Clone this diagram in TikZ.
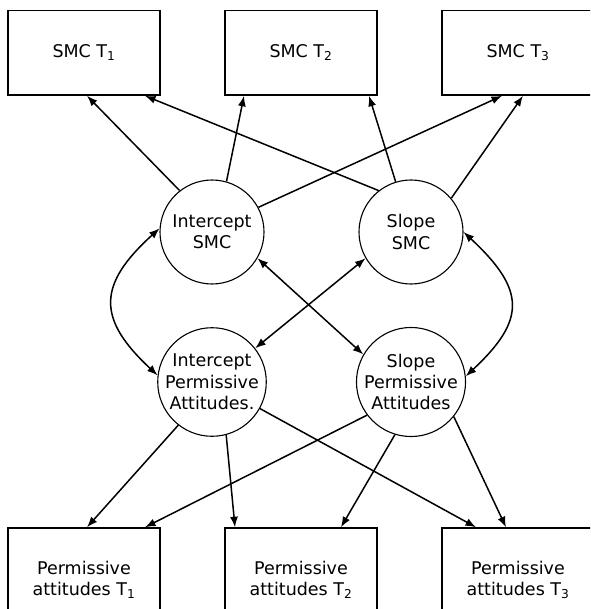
\documentclass[tikz,border=0pt]{standalone}
\usepackage{fontspec}
\setmainfont{DejaVu Sans}
\usetikzlibrary{arrows.meta}

\tikzset{
  obsbox/.style={draw, line width=1.5pt, minimum width=152pt, inner sep=0pt,
                 align=center, font=\fontsize{17.5}{21.3}\selectfont},
  latent/.style={draw, circle, line width=1.1pt, minimum size=104pt, inner sep=0pt,
                 align=center, font=\fontsize{17.5}{21.3}\selectfont},
  path/.style={line width=1.5pt, -{Latex[length=10.5pt,width=8pt]}},
  cov/.style={line width=1.5pt, {Latex[length=10.5pt,width=8pt]}-{Latex[length=10.5pt,width=8pt]}}
}

\begin{document}
\begin{tikzpicture}[x=1pt, y=-1pt]
\useasboundingbox (0,0) rectangle (590,609);
\clip (0,0) rectangle (590,609);

% observed SMC measures
\node[obsbox, minimum height=84.3pt] (t1) at (84,52.9) {SMC T\textsubscript{1}};
\node[obsbox, minimum height=84.3pt] (t2) at (301,52.9) {SMC T\textsubscript{2}};
\node[obsbox, minimum height=84.3pt] (t3) at (518,52.9) {SMC T\textsubscript{3}};

% observed permissive attitude measures
\node[obsbox, minimum height=104pt] (p1) at (84,580) {Permissive\\attitudes T\textsubscript{1}};
\node[obsbox, minimum height=104pt] (p2) at (301,580) {Permissive\\attitudes T\textsubscript{2}};
\node[obsbox, minimum height=104pt] (p3) at (518,580) {Permissive\\attitudes T\textsubscript{3}};

% growth factors
\node[latent] (isc) at (212,232) {Intercept\\SMC};
\node[latent] (ssc) at (411,232) {Slope\\SMC};
\node[latent] (ipa) at (212,382) {Intercept\\Permissive\\Attitudes.};
\node[latent] (spa) at (411,382) {Slope\\Permissive\\Attitudes};

% loadings on SMC
\draw[path] (isc.128) -- ([xshift=3pt]t1.south);
\draw[path] (isc.74)  -- ([xshift=-57pt]t2.south);
\draw[path] (isc.28)  -- ([xshift=-16pt]t3.south);
\draw[path] (ssc.128) -- ([xshift=61pt]t1.south);
\draw[path] (ssc.107) -- ([xshift=68pt]t2.south);
\draw[path] (ssc.40)  -- ([xshift=5pt]t3.south);

% loadings on permissive attitudes
\draw[path] (ipa.232) -- ([xshift=3pt]p1.north);
\draw[path] (ipa.285) -- ([xshift=-66pt]p2.north);
\draw[path] (ipa.331) -- ([xshift=-42pt]p3.north);
\draw[path] (spa.217) -- ([xshift=61pt]p1.north);
\draw[path] (spa.253) -- ([xshift=40pt]p2.north);
\draw[path] (spa.321) -- ([xshift=-12pt]p3.north);

% covariances between growth factors
\draw[cov] (isc.-30) -- (spa.150);
\draw[cov] (ssc.210) -- (ipa.38);
\draw[cov] (isc.176) .. controls (97,285) and (97,319) .. (ipa.173);
\draw[cov] (ssc.0) .. controls (526,290) and (526,320) .. (spa.6);
\end{tikzpicture}
\end{document}
